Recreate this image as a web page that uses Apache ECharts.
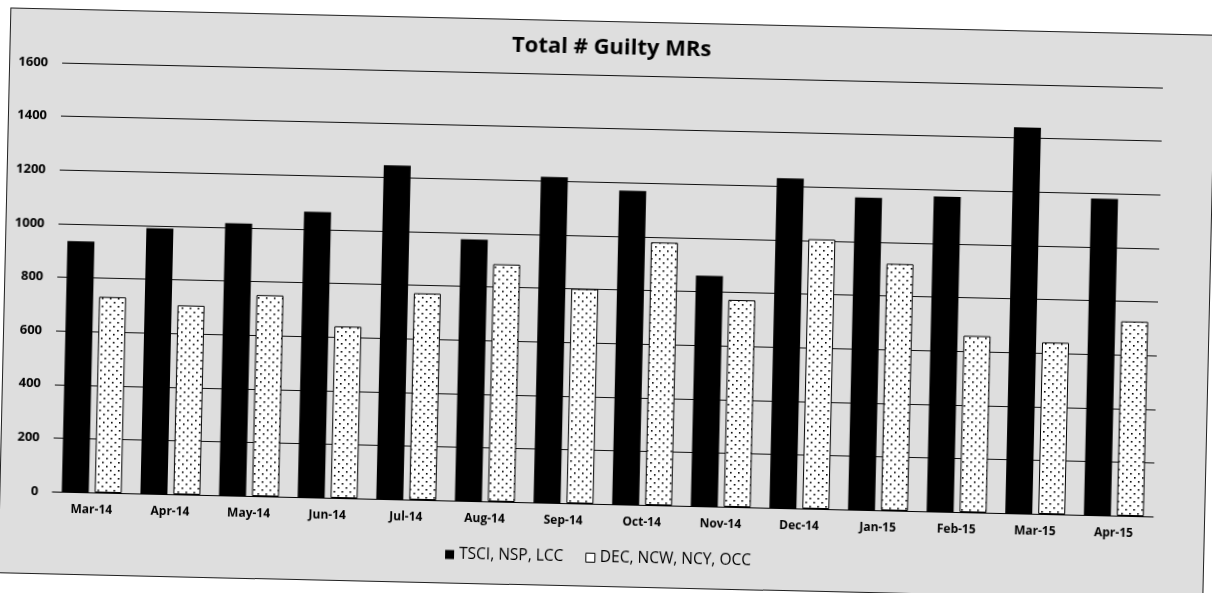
<!DOCTYPE html>
<html>
<head>
<meta charset="utf-8">
<script src="https://cdn.jsdelivr.net/npm/echarts@6.0.0/dist/echarts.min.js"></script>
<style>
  html, body { margin: 0; padding: 0; background: #ffffff; overflow: hidden; }
  #wrap { position: absolute; left: 0; top: 0; width: 1212px; height: 593px;
          transform: rotate(1.3deg); transform-origin: 606px 296px; }
  #frame { position: absolute; left: 4px; top: 21px; width: 1206px; height: 566px;
           background: #dedede; border: 1px solid #222; box-sizing: border-box; }
  #chart { position: absolute; left: 0; top: 0; width: 1212px; height: 593px; }
</style>
</head>
<body>
<div id="wrap">
  <div id="frame"></div>
  <div id="chart"></div>
</div>
<script>
const categories = ['Mar-14','Apr-14','May-14','Jun-14','Jul-14','Aug-14','Sep-14','Oct-14','Nov-14','Dec-14','Jan-15','Feb-15','Mar-15','Apr-15'];
const seriesNames = ['TSCI, NSP, LCC', 'DEC, NCW, NCY, OCC'];
const tsciValues = [935, 990, 1015, 1065, 1245, 975, 1215, 1170, 860, 1230, 1165, 1175, 1440, 1180];
const decValues = [730, 705, 750, 640, 770, 885, 800, 980, 772, 1005, 920, 658, 640, 725];
const titleText = 'Total # Guilty MRs';

// dotted pattern tile
const tile = document.createElement('canvas');
tile.width = 8; tile.height = 8;
const tctx = tile.getContext('2d');
tctx.fillStyle = '#ffffff';
tctx.fillRect(0, 0, 8, 8);
tctx.fillStyle = '#000000';
tctx.fillRect(2, 1, 1.6, 1.6);
tctx.fillRect(6, 5, 1.6, 1.6);

const chart = echarts.init(document.getElementById('chart'), null, { renderer: 'canvas' });
const font = '"Open Sans", "DejaVu Sans", sans-serif';
chart.setOption({
  backgroundColor: 'transparent',
  animation: false,
  title: {
    text: titleText,
    left: 'center',
    top: 37,
    padding: 0,
    textStyle: { fontFamily: font, fontSize: 22, fontWeight: 'bold', color: '#000' }
  },
  legend: {
    left: 451,
    top: 550,
    padding: 0,
    itemGap: 22,
    itemWidth: 9,
    itemHeight: 9,
    icon: 'rect',
    textStyle: { fontFamily: font, fontSize: 15.5, color: '#000' },
    data: [
      { name: seriesNames[0], itemStyle: { color: '#000' } },
      { name: seriesNames[1], itemStyle: { color: '#fff', borderColor: '#000', borderWidth: 1 } }
    ]
  },
  grid: { left: 57, right: 54, top: 75, bottom: 89, containLabel: false },
  xAxis: {
    type: 'category',
    data: categories,
    axisLine: { show: true, lineStyle: { color: '#000', width: 1 } },
    axisTick: { show: false },
    axisLabel: { margin: 12, fontFamily: font, fontSize: 12, fontWeight: 'bold', color: '#000', interval: 0 }
  },
  yAxis: {
    type: 'value',
    min: 0,
    max: 1600,
    interval: 200,
    axisLine: { show: false },
    axisTick: { show: false },
    axisLabel: { margin: 14, fontFamily: font, fontSize: 13, fontWeight: 'bold', color: '#000',
                 formatter: function (v) { return String(v); } },
    splitLine: { show: true, lineStyle: { color: '#111', width: 1.2 } }
  },
  series: [
    {
      name: seriesNames[0],
      type: 'bar',
      data: tsciValues,
      barWidth: 27,
      barGap: '22%',
      itemStyle: { color: '#000' }
    },
    {
      name: seriesNames[1],
      type: 'bar',
      data: decValues,
      barWidth: 27,
      itemStyle: { color: { image: tile, repeat: 'repeat' }, borderColor: '#000', borderWidth: 1 }
    }
  ]
});
</script>
</body>
</html>
